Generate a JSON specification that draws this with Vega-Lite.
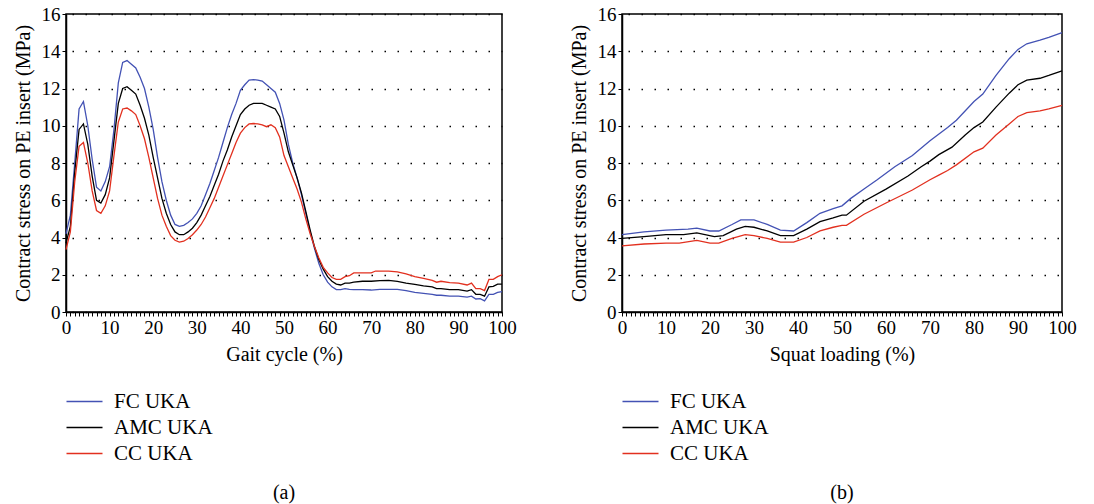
{
"$schema": "https://vega.github.io/schema/vega-lite/v6.json",
"background": "white",
"padding": {"left": 12, "top": 4, "right": 5, "bottom": 0},
"spacing": 51,
"config": {
  "font": "Liberation Serif",
  "view": {"stroke": "#000", "strokeWidth": 1.5},
  "axis": {"domainColor": "#000", "domainWidth": 1.5, "tickColor": "#000", "tickWidth": 1, "tickSize": 4, "labelColor": "#000", "labelFontSize": 19, "labelFont": "Liberation Serif", "titleFont": "Liberation Serif", "titleFontSize": 20, "titleFontWeight": "normal", "titleColor": "#000", "labelPadding": 2},
  "legend": {"labelFont": "Liberation Serif", "labelFontSize": 21, "labelColor": "#000"},
  "title": {"font": "Liberation Serif", "fontSize": 20, "fontWeight": "normal", "color": "#000"}
},
"resolve": {"legend": {"color": "independent"}, "scale": {"color": "independent"}},
"datasets": {
"gait": [
{"x":0,"s":"FC UKA","y":4.2},{"x":1,"s":"FC UKA","y":5.2},{"x":2,"s":"FC UKA","y":8.0},{"x":3,"s":"FC UKA","y":10.9},{"x":4,"s":"FC UKA","y":11.3},{"x":5,"s":"FC UKA","y":10.0},{"x":6,"s":"FC UKA","y":8.2},{"x":7,"s":"FC UKA","y":6.7},{"x":8,"s":"FC UKA","y":6.5},{"x":9,"s":"FC UKA","y":7.0},{"x":10,"s":"FC UKA","y":7.8},{"x":11,"s":"FC UKA","y":9.8},{"x":12,"s":"FC UKA","y":12.3},{"x":13,"s":"FC UKA","y":13.4},{"x":14,"s":"FC UKA","y":13.5},{"x":15,"s":"FC UKA","y":13.3},{"x":16,"s":"FC UKA","y":13.1},{"x":17,"s":"FC UKA","y":12.6},{"x":18,"s":"FC UKA","y":12.0},{"x":19,"s":"FC UKA","y":11.0},{"x":20,"s":"FC UKA","y":9.8},{"x":21,"s":"FC UKA","y":8.3},{"x":22,"s":"FC UKA","y":7.0},{"x":23,"s":"FC UKA","y":6.0},{"x":24,"s":"FC UKA","y":5.2},{"x":25,"s":"FC UKA","y":4.7},{"x":26,"s":"FC UKA","y":4.6},{"x":27,"s":"FC UKA","y":4.65},{"x":28,"s":"FC UKA","y":4.8},{"x":29,"s":"FC UKA","y":5.0},{"x":30,"s":"FC UKA","y":5.3},{"x":31,"s":"FC UKA","y":5.7},{"x":32,"s":"FC UKA","y":6.3},{"x":33,"s":"FC UKA","y":6.9},{"x":34,"s":"FC UKA","y":7.6},{"x":35,"s":"FC UKA","y":8.3},{"x":36,"s":"FC UKA","y":9.1},{"x":37,"s":"FC UKA","y":9.9},{"x":38,"s":"FC UKA","y":10.6},{"x":39,"s":"FC UKA","y":11.2},{"x":40,"s":"FC UKA","y":11.9},{"x":41,"s":"FC UKA","y":12.2},{"x":42,"s":"FC UKA","y":12.45},{"x":43,"s":"FC UKA","y":12.48},{"x":44,"s":"FC UKA","y":12.45},{"x":45,"s":"FC UKA","y":12.4},{"x":46,"s":"FC UKA","y":12.2},{"x":47,"s":"FC UKA","y":12.0},{"x":48,"s":"FC UKA","y":11.8},{"x":49,"s":"FC UKA","y":11.2},{"x":50,"s":"FC UKA","y":10.3},{"x":51,"s":"FC UKA","y":9.0},{"x":52,"s":"FC UKA","y":8.0},{"x":53,"s":"FC UKA","y":7.2},{"x":54,"s":"FC UKA","y":6.3},{"x":55,"s":"FC UKA","y":5.3},{"x":56,"s":"FC UKA","y":4.3},{"x":57,"s":"FC UKA","y":3.4},{"x":58,"s":"FC UKA","y":2.6},{"x":59,"s":"FC UKA","y":2.0},{"x":60,"s":"FC UKA","y":1.6},{"x":61,"s":"FC UKA","y":1.35},{"x":62,"s":"FC UKA","y":1.2},{"x":63,"s":"FC UKA","y":1.2},{"x":64,"s":"FC UKA","y":1.25},{"x":65,"s":"FC UKA","y":1.22},{"x":66,"s":"FC UKA","y":1.2},{"x":68,"s":"FC UKA","y":1.2},{"x":70,"s":"FC UKA","y":1.18},{"x":72,"s":"FC UKA","y":1.22},{"x":74,"s":"FC UKA","y":1.22},{"x":76,"s":"FC UKA","y":1.22},{"x":78,"s":"FC UKA","y":1.15},{"x":80,"s":"FC UKA","y":1.05},{"x":82,"s":"FC UKA","y":1.0},{"x":84,"s":"FC UKA","y":0.95},{"x":85,"s":"FC UKA","y":0.9},{"x":86,"s":"FC UKA","y":0.9},{"x":88,"s":"FC UKA","y":0.85},{"x":90,"s":"FC UKA","y":0.85},{"x":92,"s":"FC UKA","y":0.8},{"x":93,"s":"FC UKA","y":0.85},{"x":94,"s":"FC UKA","y":0.7},{"x":95,"s":"FC UKA","y":0.72},{"x":96,"s":"FC UKA","y":0.6},{"x":97,"s":"FC UKA","y":0.95},{"x":98,"s":"FC UKA","y":0.95},{"x":99,"s":"FC UKA","y":1.05},{"x":100,"s":"FC UKA","y":1.1},
{"x":0,"s":"AMC UKA","y":3.7},{"x":1,"s":"AMC UKA","y":4.6},{"x":2,"s":"AMC UKA","y":7.5},{"x":3,"s":"AMC UKA","y":9.8},{"x":4,"s":"AMC UKA","y":10.1},{"x":5,"s":"AMC UKA","y":9.0},{"x":6,"s":"AMC UKA","y":7.3},{"x":7,"s":"AMC UKA","y":6.0},{"x":8,"s":"AMC UKA","y":5.85},{"x":9,"s":"AMC UKA","y":6.3},{"x":10,"s":"AMC UKA","y":7.2},{"x":11,"s":"AMC UKA","y":9.2},{"x":12,"s":"AMC UKA","y":11.2},{"x":13,"s":"AMC UKA","y":12.0},{"x":14,"s":"AMC UKA","y":12.1},{"x":15,"s":"AMC UKA","y":11.9},{"x":16,"s":"AMC UKA","y":11.7},{"x":17,"s":"AMC UKA","y":11.1},{"x":18,"s":"AMC UKA","y":10.4},{"x":19,"s":"AMC UKA","y":9.5},{"x":20,"s":"AMC UKA","y":8.3},{"x":21,"s":"AMC UKA","y":7.2},{"x":22,"s":"AMC UKA","y":6.1},{"x":23,"s":"AMC UKA","y":5.3},{"x":24,"s":"AMC UKA","y":4.7},{"x":25,"s":"AMC UKA","y":4.3},{"x":26,"s":"AMC UKA","y":4.15},{"x":27,"s":"AMC UKA","y":4.15},{"x":28,"s":"AMC UKA","y":4.3},{"x":29,"s":"AMC UKA","y":4.5},{"x":30,"s":"AMC UKA","y":4.8},{"x":31,"s":"AMC UKA","y":5.2},{"x":32,"s":"AMC UKA","y":5.7},{"x":33,"s":"AMC UKA","y":6.2},{"x":34,"s":"AMC UKA","y":6.8},{"x":35,"s":"AMC UKA","y":7.4},{"x":36,"s":"AMC UKA","y":8.1},{"x":37,"s":"AMC UKA","y":8.7},{"x":38,"s":"AMC UKA","y":9.4},{"x":39,"s":"AMC UKA","y":10.0},{"x":40,"s":"AMC UKA","y":10.6},{"x":41,"s":"AMC UKA","y":10.9},{"x":42,"s":"AMC UKA","y":11.1},{"x":43,"s":"AMC UKA","y":11.2},{"x":44,"s":"AMC UKA","y":11.2},{"x":45,"s":"AMC UKA","y":11.2},{"x":46,"s":"AMC UKA","y":11.1},{"x":47,"s":"AMC UKA","y":11.0},{"x":48,"s":"AMC UKA","y":10.9},{"x":49,"s":"AMC UKA","y":10.5},{"x":50,"s":"AMC UKA","y":9.6},{"x":51,"s":"AMC UKA","y":8.6},{"x":52,"s":"AMC UKA","y":7.9},{"x":53,"s":"AMC UKA","y":7.2},{"x":54,"s":"AMC UKA","y":6.4},{"x":55,"s":"AMC UKA","y":5.4},{"x":56,"s":"AMC UKA","y":4.4},{"x":57,"s":"AMC UKA","y":3.5},{"x":58,"s":"AMC UKA","y":2.8},{"x":59,"s":"AMC UKA","y":2.3},{"x":60,"s":"AMC UKA","y":1.9},{"x":61,"s":"AMC UKA","y":1.65},{"x":62,"s":"AMC UKA","y":1.5},{"x":63,"s":"AMC UKA","y":1.45},{"x":64,"s":"AMC UKA","y":1.55},{"x":65,"s":"AMC UKA","y":1.55},{"x":66,"s":"AMC UKA","y":1.6},{"x":68,"s":"AMC UKA","y":1.65},{"x":70,"s":"AMC UKA","y":1.65},{"x":72,"s":"AMC UKA","y":1.68},{"x":74,"s":"AMC UKA","y":1.7},{"x":76,"s":"AMC UKA","y":1.65},{"x":78,"s":"AMC UKA","y":1.55},{"x":80,"s":"AMC UKA","y":1.48},{"x":82,"s":"AMC UKA","y":1.4},{"x":84,"s":"AMC UKA","y":1.35},{"x":85,"s":"AMC UKA","y":1.25},{"x":86,"s":"AMC UKA","y":1.25},{"x":88,"s":"AMC UKA","y":1.2},{"x":90,"s":"AMC UKA","y":1.2},{"x":92,"s":"AMC UKA","y":1.12},{"x":93,"s":"AMC UKA","y":1.2},{"x":94,"s":"AMC UKA","y":0.95},{"x":95,"s":"AMC UKA","y":0.95},{"x":96,"s":"AMC UKA","y":0.85},{"x":97,"s":"AMC UKA","y":1.35},{"x":98,"s":"AMC UKA","y":1.38},{"x":99,"s":"AMC UKA","y":1.5},{"x":100,"s":"AMC UKA","y":1.5},
{"x":0,"s":"CC UKA","y":3.35},{"x":1,"s":"CC UKA","y":4.3},{"x":2,"s":"CC UKA","y":7.0},{"x":3,"s":"CC UKA","y":8.9},{"x":4,"s":"CC UKA","y":9.1},{"x":5,"s":"CC UKA","y":8.0},{"x":6,"s":"CC UKA","y":6.5},{"x":7,"s":"CC UKA","y":5.45},{"x":8,"s":"CC UKA","y":5.3},{"x":9,"s":"CC UKA","y":5.7},{"x":10,"s":"CC UKA","y":6.5},{"x":11,"s":"CC UKA","y":8.4},{"x":12,"s":"CC UKA","y":10.2},{"x":13,"s":"CC UKA","y":10.9},{"x":14,"s":"CC UKA","y":10.95},{"x":15,"s":"CC UKA","y":10.8},{"x":16,"s":"CC UKA","y":10.6},{"x":17,"s":"CC UKA","y":10.0},{"x":18,"s":"CC UKA","y":9.3},{"x":19,"s":"CC UKA","y":8.3},{"x":20,"s":"CC UKA","y":7.2},{"x":21,"s":"CC UKA","y":6.1},{"x":22,"s":"CC UKA","y":5.2},{"x":23,"s":"CC UKA","y":4.6},{"x":24,"s":"CC UKA","y":4.1},{"x":25,"s":"CC UKA","y":3.85},{"x":26,"s":"CC UKA","y":3.75},{"x":27,"s":"CC UKA","y":3.8},{"x":28,"s":"CC UKA","y":3.95},{"x":29,"s":"CC UKA","y":4.15},{"x":30,"s":"CC UKA","y":4.4},{"x":31,"s":"CC UKA","y":4.7},{"x":32,"s":"CC UKA","y":5.1},{"x":33,"s":"CC UKA","y":5.6},{"x":34,"s":"CC UKA","y":6.1},{"x":35,"s":"CC UKA","y":6.7},{"x":36,"s":"CC UKA","y":7.3},{"x":37,"s":"CC UKA","y":7.9},{"x":38,"s":"CC UKA","y":8.5},{"x":39,"s":"CC UKA","y":9.1},{"x":40,"s":"CC UKA","y":9.6},{"x":41,"s":"CC UKA","y":9.9},{"x":42,"s":"CC UKA","y":10.1},{"x":43,"s":"CC UKA","y":10.12},{"x":44,"s":"CC UKA","y":10.1},{"x":45,"s":"CC UKA","y":10.05},{"x":46,"s":"CC UKA","y":9.95},{"x":47,"s":"CC UKA","y":10.05},{"x":48,"s":"CC UKA","y":9.9},{"x":49,"s":"CC UKA","y":9.4},{"x":50,"s":"CC UKA","y":8.4},{"x":51,"s":"CC UKA","y":7.8},{"x":52,"s":"CC UKA","y":7.2},{"x":53,"s":"CC UKA","y":6.6},{"x":54,"s":"CC UKA","y":5.9},{"x":55,"s":"CC UKA","y":5.0},{"x":56,"s":"CC UKA","y":4.2},{"x":57,"s":"CC UKA","y":3.5},{"x":58,"s":"CC UKA","y":2.9},{"x":59,"s":"CC UKA","y":2.4},{"x":60,"s":"CC UKA","y":2.1},{"x":61,"s":"CC UKA","y":1.85},{"x":62,"s":"CC UKA","y":1.75},{"x":63,"s":"CC UKA","y":1.75},{"x":64,"s":"CC UKA","y":1.9},{"x":65,"s":"CC UKA","y":1.95},{"x":66,"s":"CC UKA","y":2.1},{"x":68,"s":"CC UKA","y":2.1},{"x":70,"s":"CC UKA","y":2.1},{"x":71,"s":"CC UKA","y":2.2},{"x":72,"s":"CC UKA","y":2.2},{"x":74,"s":"CC UKA","y":2.2},{"x":76,"s":"CC UKA","y":2.15},{"x":78,"s":"CC UKA","y":2.05},{"x":80,"s":"CC UKA","y":1.9},{"x":82,"s":"CC UKA","y":1.8},{"x":84,"s":"CC UKA","y":1.7},{"x":85,"s":"CC UKA","y":1.6},{"x":86,"s":"CC UKA","y":1.65},{"x":88,"s":"CC UKA","y":1.58},{"x":90,"s":"CC UKA","y":1.55},{"x":92,"s":"CC UKA","y":1.45},{"x":93,"s":"CC UKA","y":1.55},{"x":94,"s":"CC UKA","y":1.25},{"x":95,"s":"CC UKA","y":1.25},{"x":96,"s":"CC UKA","y":1.15},{"x":97,"s":"CC UKA","y":1.75},{"x":98,"s":"CC UKA","y":1.75},{"x":99,"s":"CC UKA","y":1.9},{"x":100,"s":"CC UKA","y":2.0}
],
"squat": [
{"x":0,"s":"FC UKA","y":4.15},{"x":5,"s":"FC UKA","y":4.3},{"x":10,"s":"FC UKA","y":4.4},{"x":15,"s":"FC UKA","y":4.45},{"x":17,"s":"FC UKA","y":4.5},{"x":20,"s":"FC UKA","y":4.35},{"x":22,"s":"FC UKA","y":4.35},{"x":25,"s":"FC UKA","y":4.7},{"x":27,"s":"FC UKA","y":4.95},{"x":30,"s":"FC UKA","y":4.95},{"x":33,"s":"FC UKA","y":4.7},{"x":36,"s":"FC UKA","y":4.4},{"x":39,"s":"FC UKA","y":4.35},{"x":42,"s":"FC UKA","y":4.8},{"x":45,"s":"FC UKA","y":5.3},{"x":48,"s":"FC UKA","y":5.55},{"x":50,"s":"FC UKA","y":5.7},{"x":52,"s":"FC UKA","y":6.1},{"x":55,"s":"FC UKA","y":6.6},{"x":58,"s":"FC UKA","y":7.1},{"x":62,"s":"FC UKA","y":7.8},{"x":66,"s":"FC UKA","y":8.4},{"x":70,"s":"FC UKA","y":9.2},{"x":74,"s":"FC UKA","y":9.9},{"x":76,"s":"FC UKA","y":10.3},{"x":80,"s":"FC UKA","y":11.3},{"x":82,"s":"FC UKA","y":11.7},{"x":85,"s":"FC UKA","y":12.7},{"x":88,"s":"FC UKA","y":13.6},{"x":90,"s":"FC UKA","y":14.1},{"x":92,"s":"FC UKA","y":14.4},{"x":95,"s":"FC UKA","y":14.6},{"x":97,"s":"FC UKA","y":14.75},{"x":100,"s":"FC UKA","y":15.0},
{"x":0,"s":"AMC UKA","y":3.95},{"x":5,"s":"AMC UKA","y":4.05},{"x":10,"s":"AMC UKA","y":4.15},{"x":14,"s":"AMC UKA","y":4.15},{"x":17,"s":"AMC UKA","y":4.25},{"x":21,"s":"AMC UKA","y":4.05},{"x":23,"s":"AMC UKA","y":4.1},{"x":26,"s":"AMC UKA","y":4.45},{"x":28,"s":"AMC UKA","y":4.6},{"x":30,"s":"AMC UKA","y":4.55},{"x":33,"s":"AMC UKA","y":4.35},{"x":36,"s":"AMC UKA","y":4.1},{"x":39,"s":"AMC UKA","y":4.1},{"x":42,"s":"AMC UKA","y":4.45},{"x":45,"s":"AMC UKA","y":4.85},{"x":48,"s":"AMC UKA","y":5.05},{"x":50,"s":"AMC UKA","y":5.2},{"x":51,"s":"AMC UKA","y":5.2},{"x":55,"s":"AMC UKA","y":5.95},{"x":60,"s":"AMC UKA","y":6.6},{"x":65,"s":"AMC UKA","y":7.3},{"x":68,"s":"AMC UKA","y":7.8},{"x":70,"s":"AMC UKA","y":8.1},{"x":72,"s":"AMC UKA","y":8.45},{"x":75,"s":"AMC UKA","y":8.85},{"x":78,"s":"AMC UKA","y":9.5},{"x":80,"s":"AMC UKA","y":9.9},{"x":82,"s":"AMC UKA","y":10.2},{"x":85,"s":"AMC UKA","y":11.0},{"x":88,"s":"AMC UKA","y":11.75},{"x":90,"s":"AMC UKA","y":12.2},{"x":92,"s":"AMC UKA","y":12.45},{"x":95,"s":"AMC UKA","y":12.55},{"x":97,"s":"AMC UKA","y":12.7},{"x":100,"s":"AMC UKA","y":12.95},
{"x":0,"s":"CC UKA","y":3.55},{"x":5,"s":"CC UKA","y":3.65},{"x":10,"s":"CC UKA","y":3.7},{"x":13,"s":"CC UKA","y":3.7},{"x":17,"s":"CC UKA","y":3.85},{"x":20,"s":"CC UKA","y":3.7},{"x":22,"s":"CC UKA","y":3.7},{"x":25,"s":"CC UKA","y":3.95},{"x":28,"s":"CC UKA","y":4.15},{"x":30,"s":"CC UKA","y":4.1},{"x":33,"s":"CC UKA","y":3.95},{"x":36,"s":"CC UKA","y":3.75},{"x":39,"s":"CC UKA","y":3.75},{"x":42,"s":"CC UKA","y":4.0},{"x":45,"s":"CC UKA","y":4.35},{"x":48,"s":"CC UKA","y":4.55},{"x":50,"s":"CC UKA","y":4.65},{"x":51,"s":"CC UKA","y":4.65},{"x":55,"s":"CC UKA","y":5.25},{"x":60,"s":"CC UKA","y":5.85},{"x":63,"s":"CC UKA","y":6.2},{"x":66,"s":"CC UKA","y":6.55},{"x":70,"s":"CC UKA","y":7.1},{"x":72,"s":"CC UKA","y":7.35},{"x":74,"s":"CC UKA","y":7.6},{"x":76,"s":"CC UKA","y":7.9},{"x":80,"s":"CC UKA","y":8.6},{"x":82,"s":"CC UKA","y":8.8},{"x":85,"s":"CC UKA","y":9.5},{"x":88,"s":"CC UKA","y":10.1},{"x":90,"s":"CC UKA","y":10.5},{"x":92,"s":"CC UKA","y":10.7},{"x":95,"s":"CC UKA","y":10.8},{"x":97,"s":"CC UKA","y":10.9},{"x":100,"s":"CC UKA","y":11.1}
]
},
"hconcat": [
{
 "data": {"name": "gait"},
 "width": 436, "height": 298,
 "title": {"text": "(a)", "orient": "bottom", "offset": 19, "anchor": "middle"},
 "mark": {"type": "line", "strokeWidth": 1.3},
 "encoding": {
  "x": {"field": "x", "type": "quantitative", "scale": {"domain": [0, 100], "nice": false, "zero": false},
   "axis": {"title": "Gait cycle (%)", "values": [0,1,2,3,4,5,6,7,8,9,10,11,12,13,14,15,16,17,18,19,20,21,22,23,24,25,26,27,28,29,30,31,32,33,34,35,36,37,38,39,40,41,42,43,44,45,46,47,48,49,50,51,52,53,54,55,56,57,58,59,60,61,62,63,64,65,66,67,68,69,70,71,72,73,74,75,76,77,78,79,80,81,82,83,84,85,86,87,88,89,90,91,92,93,94,95,96,97,98,99,100], "labelExpr": "datum.value % 10 === 0 ? datum.label : ''", "labelOverlap": false, "labelFlush": false, "grid": false, "titlePadding": 7}},
  "y": {"field": "y", "type": "quantitative", "scale": {"domain": [0, 16], "nice": false},
   "axis": {"title": "Contract stress on PE insert (MPa)", "values": [0,2,4,6,8,10,12,14,16], "grid": true, "gridDash": [1.5, 11.5], "gridDashOffset": 7, "gridColor": "#000", "gridWidth": 1.3, "titlePadding": 8}},
  "color": {"field": "s", "type": "nominal", "scale": {"domain": ["FC UKA", "AMC UKA", "CC UKA"], "range": ["#4352b4", "#000000", "#e2301f"]},
   "legend": {"orient": "none", "legendX": 8, "legendY": 377, "title": null, "direction": "vertical", "symbolType": "M-3,0H3", "symbolSize": 144, "symbolStrokeWidth": 1.5, "labelOffset": 19, "rowPadding": 4}}
 }
},
{
 "data": {"name": "squat"},
 "width": 440, "height": 298,
 "title": {"text": "(b)", "orient": "bottom", "offset": 19, "anchor": "middle"},
 "mark": {"type": "line", "strokeWidth": 1.3},
 "encoding": {
  "x": {"field": "x", "type": "quantitative", "scale": {"domain": [0, 100], "nice": false, "zero": false},
   "axis": {"title": "Squat loading (%)", "values": [0,1,2,3,4,5,6,7,8,9,10,11,12,13,14,15,16,17,18,19,20,21,22,23,24,25,26,27,28,29,30,31,32,33,34,35,36,37,38,39,40,41,42,43,44,45,46,47,48,49,50,51,52,53,54,55,56,57,58,59,60,61,62,63,64,65,66,67,68,69,70,71,72,73,74,75,76,77,78,79,80,81,82,83,84,85,86,87,88,89,90,91,92,93,94,95,96,97,98,99,100], "labelExpr": "datum.value % 10 === 0 ? datum.label : ''", "labelOverlap": false, "labelFlush": false, "grid": false, "titlePadding": 7}},
  "y": {"field": "y", "type": "quantitative", "scale": {"domain": [0, 16], "nice": false},
   "axis": {"title": "Contract stress on PE insert (MPa)", "values": [0,2,4,6,8,10,12,14,16], "grid": true, "gridDash": [1.5, 11.5], "gridDashOffset": 7, "gridColor": "#000", "gridWidth": 1.3, "titlePadding": 8}},
  "color": {"field": "s", "type": "nominal", "scale": {"domain": ["FC UKA", "AMC UKA", "CC UKA"], "range": ["#4352b4", "#000000", "#e2301f"]},
   "legend": {"orient": "none", "legendX": 8, "legendY": 377, "title": null, "direction": "vertical", "symbolType": "M-3,0H3", "symbolSize": 144, "symbolStrokeWidth": 1.5, "labelOffset": 19, "rowPadding": 4}}
 }
}
]
}
